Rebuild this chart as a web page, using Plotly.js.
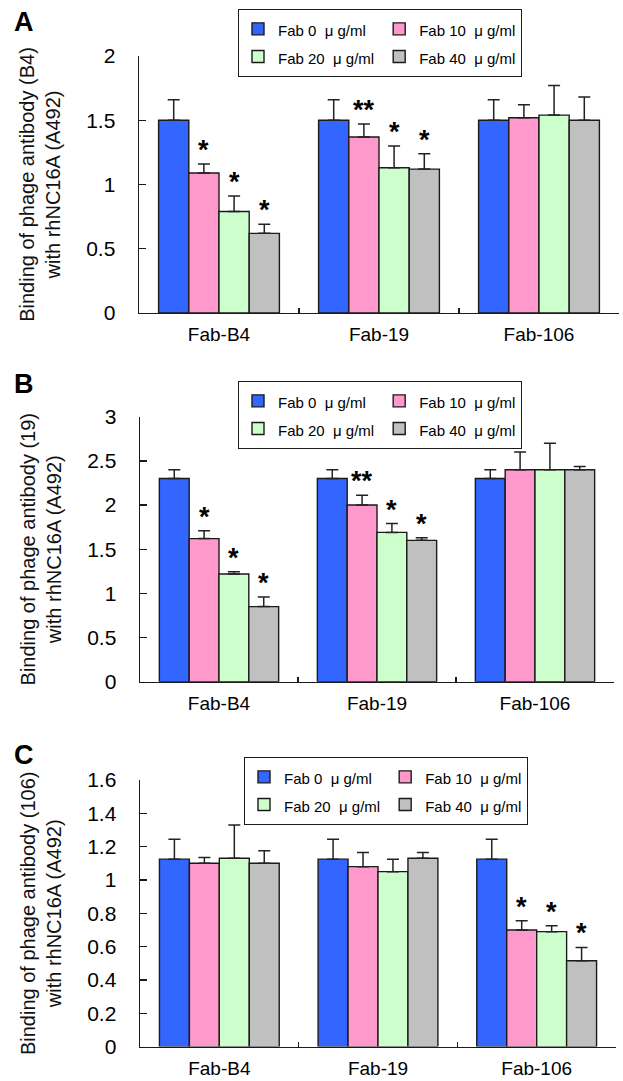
<!DOCTYPE html>
<html>
<head>
<meta charset="utf-8">
<script src="https://cdn.plot.ly/plotly-3.0.1.min.js"></script>
<style>
html,body{margin:0;padding:0;background:#fff;}
#chart{width:623px;height:1081px;}
</style>
</head>
<body>
<div id="chart"></div>
<script>
// ---------- data ----------
const categories = ['Fab-B4', 'Fab-19', 'Fab-106'];
const seriesNames = ['Fab 0\u00a0 \u03bc g/ml', 'Fab 10\u00a0 \u03bc g/ml', 'Fab 20\u00a0 \u03bc g/ml', 'Fab 40\u00a0 \u03bc g/ml'];
const panelLetters = ['A', 'B', 'C'];
const yTitles = [
  'Binding of phage antibody (B4)<br>with rhNC16A (A492)',
  'Binding of phage antibody (19)<br>with rhNC16A (A492)',
  'Binding of phage antibody (106)<br>with rhNC16A (A492)'
];

// Panel A : phage antibody B4
const a_fab0 = [1.50, 1.50, 1.50];
const a_fab10 = [1.09, 1.37, 1.52];
const a_fab20 = [0.79, 1.13, 1.54];
const a_fab40 = [0.62, 1.12, 1.50];
const a_fab0_err = [0.16, 0.16, 0.16];
const a_fab10_err = [0.07, 0.10, 0.10];
const a_fab20_err = [0.12, 0.17, 0.23];
const a_fab40_err = [0.07, 0.12, 0.18];
const a_fab10_sig = ['*', '**', ''];
const a_fab20_sig = ['*', '*', ''];
const a_fab40_sig = ['*', '*', ''];

// Panel B : phage antibody 19
const b_fab0 = [2.30, 2.30, 2.30];
const b_fab10 = [1.62, 2.00, 2.40];
const b_fab20 = [1.22, 1.69, 2.40];
const b_fab40 = [0.85, 1.60, 2.40];
const b_fab0_err = [0.10, 0.10, 0.10];
const b_fab10_err = [0.09, 0.11, 0.20];
const b_fab20_err = [0.025, 0.10, 0.30];
const b_fab40_err = [0.11, 0.03, 0.035];
const b_fab10_sig = ['*', '**', ''];
const b_fab20_sig = ['*', '*', ''];
const b_fab40_sig = ['*', '*', ''];

// Panel C : phage antibody 106
const c_fab0 = [1.125, 1.125, 1.125];
const c_fab10 = [1.10, 1.08, 0.70];
const c_fab20 = [1.13, 1.05, 0.69];
const c_fab40 = [1.10, 1.13, 0.515];
const c_fab0_err = [0.12, 0.12, 0.12];
const c_fab10_err = [0.035, 0.085, 0.055];
const c_fab20_err = [0.20, 0.075, 0.035];
const c_fab40_err = [0.075, 0.035, 0.08];
const c_fab10_sig = ['', '', '*'];
const c_fab20_sig = ['', '', '*'];
const c_fab40_sig = ['', '', '*'];

const noLowerErr = [0, 0, 0];

// ---------- styling ----------
const seriesColors = ['#3366FF', '#FF99CC', '#CCFFCC', '#C0C0C0'];
const FONT = '"Liberation Sans", Arial, Helvetica, sans-serif';
const W = 623, H = 1081, ML = 139, MR = 4;
const PW = W - ML - MR;
const BARGAP = 0.245;

const panels = [
  { values: [a_fab0, a_fab10, a_fab20, a_fab40], errs: [a_fab0_err, a_fab10_err, a_fab20_err, a_fab40_err],
    sig: [null, a_fab10_sig, a_fab20_sig, a_fab40_sig], range: [0, 2], dtick: 0.5,
    top: 56, bottom: 313, left: 139, right: 619, legendTop: 9, legendCx: 380, letterY: 22 },
  { values: [b_fab0, b_fab10, b_fab20, b_fab40], errs: [b_fab0_err, b_fab10_err, b_fab20_err, b_fab40_err],
    sig: [null, b_fab10_sig, b_fab20_sig, b_fab40_sig], range: [0, 3], dtick: 0.5,
    top: 416.7, bottom: 681.7, left: 140, right: 614, legendTop: 381, legendCx: 380, letterY: 384 },
  { values: [c_fab0, c_fab10, c_fab20, c_fab40], errs: [c_fab0_err, c_fab10_err, c_fab20_err, c_fab40_err],
    sig: [null, c_fab10_sig, c_fab20_sig, c_fab40_sig], range: [0, 1.6], dtick: 0.2,
    top: 780, bottom: 1046.6, left: 140, right: 616, legendTop: 757, legendCx: 386, letterY: 755 }
];

const traces = [];
const annotations = [];
const layout = {
  width: W, height: H,
  margin: { l: ML, r: MR, t: 0, b: 0, pad: 0 },
  paper_bgcolor: '#ffffff', plot_bgcolor: '#ffffff',
  barmode: 'group', bargap: BARGAP, bargroupgap: 0,
  font: { family: FONT, color: '#000000' },
  showlegend: true,
  annotations: annotations
};

const slot = (1 - BARGAP) / 4;

panels.forEach((p, pi) => {
  const sfx = pi === 0 ? '' : String(pi + 1);
  const xName = 'x' + sfx, yName = 'y' + sfx;
  const legendName = 'legend' + sfx;

  p.values.forEach((vals, si) => {
    traces.push({
      type: 'bar',
      name: '<span style="font-size:15px">' + seriesNames[si] + '</span>',
      x: categories,
      y: vals,
      xaxis: xName, yaxis: yName,
      legend: legendName,
      legendgroup: 'p' + pi + 'col' + (si % 2),
      marker: { color: seriesColors[si], line: { color: '#1a1a1a', width: 1.4 } },
      error_y: { type: 'data', symmetric: false, array: p.errs[si], arrayminus: noLowerErr,
                 visible: true, color: '#222222', thickness: 1.5, width: 6 },
      hoverinfo: 'skip'
    });
    if (p.sig[si]) {
      p.sig[si].forEach((s, ci) => {
        if (!s) return;
        annotations.push({
          xref: xName, yref: yName,
          x: ci - (1 - BARGAP) / 2 + slot * (si + 0.5),
          y: vals[ci] + p.errs[si][ci],
          yanchor: 'bottom', xanchor: 'center',
          yshift: -3,
          text: '<b>' + s + '</b>', showarrow: false,
          font: { family: FONT, size: 27, color: '#000000' }
        });
      });
    }
  });

  layout['xaxis' + sfx] = {
    domain: [(p.left - ML) / PW, (p.right - ML) / PW],
    anchor: yName,
    type: 'category',
    showline: true, linecolor: '#1a1a1a', linewidth: 1.4,
    ticks: 'inside', tickson: 'boundaries', ticklen: 5, tickcolor: '#1a1a1a', tickwidth: 1.4,
    showgrid: false, zeroline: false,
    tickfont: { family: FONT, size: 19, color: '#000000' },
    ticklabelstandoff: 4,
    fixedrange: true
  };
  layout['yaxis' + sfx] = {
    domain: [1 - p.bottom / H, 1 - p.top / H],
    anchor: xName,
    range: p.range, dtick: p.dtick, tick0: 0,
    showline: true, linecolor: '#1a1a1a', linewidth: 1.4,
    ticks: 'inside', ticklen: 7, tickcolor: '#1a1a1a', tickwidth: 1.4,
    showgrid: false, zeroline: false,
    tickfont: { family: FONT, size: 21, color: '#000000' },
    ticklabelstandoff: 18,
    title: { text: yTitles[pi], font: { family: FONT, size: 20, color: '#111111' }, standoff: 20 },
    fixedrange: true
  };
  layout[legendName] = {
    orientation: 'h', traceorder: 'grouped',
    x: (p.legendCx - ML) / PW, xanchor: 'center',
    y: 1 - p.legendTop / H, yanchor: 'top',
    bgcolor: '#ffffff', bordercolor: '#1a1a1a', borderwidth: 1,
    font: { family: FONT, size: 19, color: '#000000' },
    itemwidth: 30
  };
  annotations.push({
    xref: 'paper', yref: 'paper',
    x: (24 - ML) / PW, y: 1 - p.letterY / H,
    xanchor: 'center', yanchor: 'middle',
    text: '<b>' + panelLetters[pi] + '</b>', showarrow: false,
    font: { family: FONT, size: 27, color: '#000000' }
  });
});

Plotly.newPlot('chart', traces, layout, { displayModeBar: false, staticPlot: true });
</script>
</body>
</html>
